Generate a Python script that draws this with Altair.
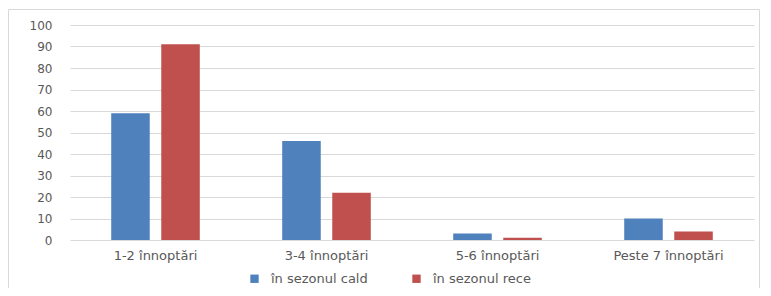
import altair as alt
import pandas as pd

categories = ["1-2 înnoptări", "3-4 înnoptări", "5-6 înnoptări", "Peste 7 înnoptări"]
series = ["în sezonul cald", "în sezonul rece"]
cald = [59, 46, 3, 10]
rece = [91, 22, 1, 4]
colors = ["#4f81bd", "#c0504d"]

rows = []
for c, a, b in zip(categories, cald, rece):
    rows.append({"cat": c, "serie": series[0], "val": a})
    rows.append({"cat": c, "serie": series[1], "val": b})
df = pd.DataFrame(rows)

W, H = 684, 215
FONT = "DejaVu Sans"
GRAY = "#595959"

bars = alt.Chart(df).mark_bar().encode(
    x=alt.X("cat:N", sort=categories, title=None,
            scale=alt.Scale(paddingInner=0.482, paddingOuter=0.241),
            axis=alt.Axis(labelAngle=0, domain=False, ticks=False, labelPadding=9,
                          labelFont=FONT, labelFontSize=13, labelColor=GRAY, grid=False)),
    xOffset=alt.XOffset("serie:N", sort=series,
                        scale=alt.Scale(paddingInner=0.23, paddingOuter=0)),
    y=alt.Y("val:Q", title=None,
            scale=alt.Scale(domain=[0, 100], nice=False),
            axis=alt.Axis(values=list(range(0, 101, 10)), domain=False, ticks=False,
                          labelPadding=18, labelFont=FONT, labelFontSize=12,
                          labelColor=GRAY, gridColor="#d9d9d9", gridWidth=1)),
    color=alt.Color("serie:N", sort=series, title=None,
                    scale=alt.Scale(domain=series, range=colors),
                    legend=alt.Legend(orient="none", direction="horizontal",
                                      legendX=178, legendY=247,
                                      symbolType="square", symbolSize=70,
                                      symbolStrokeWidth=0, labelOffset=10,
                                      columnPadding=42,
                                      labelFont=FONT, labelFontSize=13,
                                      labelColor=GRAY)),
)

frame = alt.Chart(pd.DataFrame({"a": [0]})).mark_rect(
    fill=None, stroke="#d9d9d9", strokeWidth=1
).encode(
    x=alt.value(-61.5), x2=alt.value(689.5),
    y=alt.value(-15.5), y2=alt.value(320),
)

chart = alt.layer(frame, bars).properties(
    width=W, height=H,
    autosize=alt.AutoSizeParams(type="none"),
    padding={"left": 62, "top": 17, "right": 9, "bottom": 48},
).configure_view(stroke=None)

chart.save("out.html", embed_options={"renderer": "svg", "actions": False})
